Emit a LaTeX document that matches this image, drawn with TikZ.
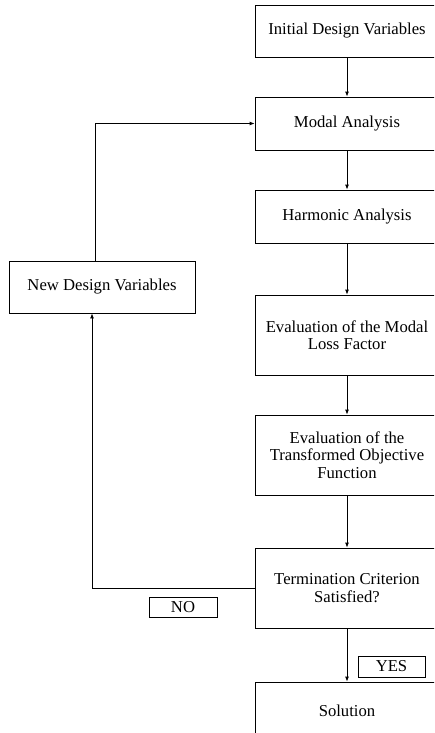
\documentclass[tikz,border=0pt]{standalone}
\usepackage{fontspec}
\setmainfont{Liberation Serif}
\usetikzlibrary{arrows.meta}

\begin{document}
\begin{tikzpicture}[x=0.6pt, y=-0.6pt, every node/.style={font=\fontsize{10}{10.5}\selectfont}, >={Latex[length=3pt,width=2.4pt]},
	stage/.style={draw, line width=0.5pt, align=center, minimum width=110.4pt, inner sep=0pt},
	tag/.style={draw, line width=0.5pt, inner sep=0pt}]
	\useasboundingbox (0,0) rectangle (434,733);
	\clip (0,0) rectangle (434,733);
	\node[stage, minimum height=31.2pt] (init) at (347,31) {Initial Design Variables};
	\node[stage, minimum height=31.8pt] (modal) at (347,123.5) {Modal Analysis};
	\node[stage, minimum height=31.8pt] (harm) at (347,216.5) {Harmonic Analysis};
	\node[stage, minimum height=48pt] (loss) at (347,335) {Evaluation of the Modal\\Loss Factor};
	\node[stage, minimum height=48pt] (objfn) at (347,455) {Evaluation of the\\Transformed Objective\\Function};
	\node[stage, minimum height=48pt] (term) at (347,588) {Termination Criterion\\Satisfied?};
	\node[stage, minimum height=34.8pt] (sol) at (347,711) {Solution};
	\node[stage, minimum width=111.6pt, minimum height=31.2pt] (newvar) at (102,287) {New Design Variables};
	\node[tag, minimum width=40.8pt, minimum height=12pt] (no) at (183,607) {NO};
	\node[tag, minimum width=40.2pt, minimum height=12.6pt] (yes) at (391.5,666.5) {YES};
	\draw[->, line width=0.5pt] (init) -- (modal);
	\draw[->, line width=0.5pt] (modal) -- (harm);
	\draw[->, line width=0.5pt] (harm) -- (loss);
	\draw[->, line width=0.5pt] (loss) -- (objfn);
	\draw[->, line width=0.5pt] (objfn) -- (term);
	\draw[->, line width=0.5pt] (term) -- (sol);
	\draw[->, line width=0.5pt] ([xshift=-4.2pt]newvar.north) |- (modal.west);
	\draw[->, line width=0.5pt] (term.west) -| ([xshift=-6pt]newvar.south);
\end{tikzpicture}
\end{document}
